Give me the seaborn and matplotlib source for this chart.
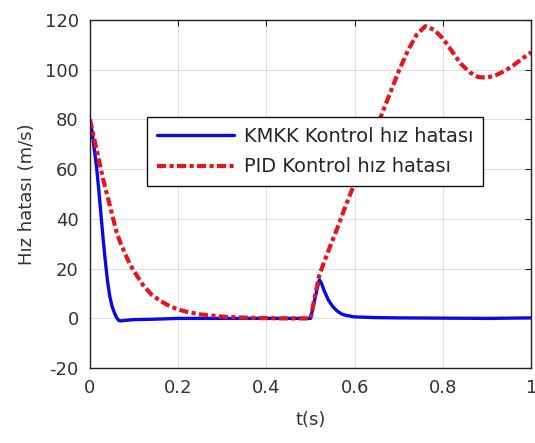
import pandas as pd
import matplotlib
matplotlib.use('Agg')
import matplotlib.pyplot as plt
import seaborn as sns

# KMKK kontrol hiz hatasi (okunan degerler)
t_kmkk = [0, 0.005, 0.01, 0.015, 0.02, 0.025, 0.03, 0.035, 0.04, 0.045, 0.05, 0.055,
          0.06, 0.065, 0.07, 0.08, 0.1, 0.15, 0.2, 0.3, 0.4, 0.5, 0.505, 0.51, 0.515,
          0.52, 0.525, 0.53, 0.535, 0.54, 0.55, 0.56, 0.57, 0.58, 0.6, 0.65, 0.7, 0.8,
          0.9, 1.0]
v_kmkk = [80, 75, 68, 61, 52, 42, 32, 23, 15, 9, 5, 2.5,
          0.5, -0.8, -1, -0.8, -0.5, -0.3, 0, 0, 0, 0, 4, 8, 12,
          15.5, 14, 11.5, 9.5, 7.5, 4.8, 3, 1.8, 1.2, 0.6, 0.3, 0.2, 0.1,
          0, 0.2]

# PID kontrol hiz hatasi
t_pid = [0, 0.01, 0.02, 0.03, 0.04, 0.05, 0.06, 0.07, 0.08, 0.09, 0.1, 0.12, 0.14,
         0.16, 0.18, 0.2, 0.22, 0.25, 0.3, 0.35, 0.4, 0.45, 0.5, 0.51, 0.52, 0.54,
         0.56, 0.58, 0.6, 0.62, 0.64, 0.66, 0.68, 0.7, 0.72, 0.74, 0.76, 0.78, 0.8,
         0.82, 0.84, 0.86, 0.88, 0.9, 0.92, 0.94, 0.96, 0.98, 1.0]
v_pid = [80, 72, 64, 56, 49, 42, 35, 30, 26, 22, 19, 13.5, 9.5,
         7, 5, 3.6, 2.6, 1.6, 0.7, 0.3, 0.1, 0, 0, 9, 17.5, 27,
         36, 45.5, 54.5, 63.5, 72.5, 81.5, 90.5, 99.5, 107.5, 114, 117.5, 116, 112.5,
         107.5, 102.5, 99, 97, 96.8, 97.8, 99.5, 101.8, 104.5, 107]

df_kmkk = pd.DataFrame({'t': t_kmkk, 'v': v_kmkk})
df_pid = pd.DataFrame({'t': t_pid, 'v': v_pid})

sns.set_style('whitegrid')
plt.rcParams['font.family'] = ['DejaVu Sans']
plt.rcParams['axes.unicode_minus'] = False

fig = plt.figure(figsize=(5.35, 4.43), dpi=100)
ax = fig.add_axes([0.168, 0.169, 0.825, 0.786])

sns.lineplot(data=df_kmkk, x='t', y='v', ax=ax, color='#0a0ae6', linewidth=2.4,
             estimator=None, sort=False, label='KMKK Kontrol hız hatası')
sns.lineplot(data=df_pid, x='t', y='v', ax=ax, color='#e8141c', linewidth=3,
             linestyle=(0, (2.2, 0.8, 1, 0.8)),
             estimator=None, sort=False, label='PID Kontrol hız hatası')

ax.set_xlim(0, 1)
ax.set_ylim(-20, 120)
ax.set_xticks([0, 0.2, 0.4, 0.6, 0.8, 1])
ax.set_xticklabels(['0', '0.2', '0.4', '0.6', '0.8', '1'])
ax.set_yticks(range(-20, 121, 20))
ax.grid(True, color='#e0e0e0', linewidth=0.8)
for s in ax.spines.values():
    s.set_color('#222222')
    s.set_linewidth(1)
ax.tick_params(direction='in', length=4, top=True, right=True, labelsize=13,
               colors='#222222', labelcolor='#333333', pad=8)

ax.set_xlabel('t(s)', fontsize=13, color='#333333', labelpad=10)
ax.set_ylabel('Hız hatası (m/s)', fontsize=13, color='#333333', labelpad=6)

leg = ax.legend(loc='upper left', bbox_to_anchor=(0.129, 0.721), fontsize=14,
                frameon=True, fancybox=False, framealpha=1, edgecolor='#111111',
                handlelength=4.0, handletextpad=0.5, borderpad=0.5, labelspacing=0.6,
                borderaxespad=0)
leg.get_frame().set_linewidth(1)

fig.savefig('out.png', dpi=100)
